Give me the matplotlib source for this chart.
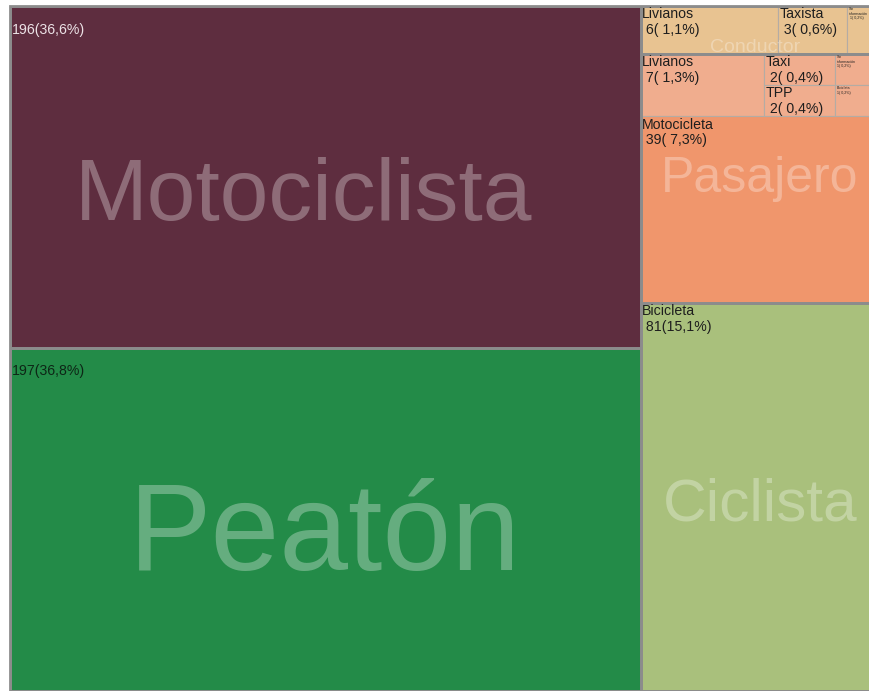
import matplotlib
matplotlib.use("Agg")
import matplotlib.pyplot as plt
from matplotlib.patches import Rectangle

plt.rcParams["font.family"] = ["Liberation Sans", "DejaVu Sans"]

# victims by road-user role; leaves are the vehicle involved
groups = ["Motociclista", "Peatón", "Conductor", "Pasajero", "Ciclista"]
group_colors = ["#5e2d3f", "#238b48", "#e8c391", "#f0ad8e", "#a9c07c"]

moto_names = [""]
moto_counts = [196]
peaton_names = [""]
peaton_counts = [197]
cond_names = ["Livianos", "Taxista", "Sin\ninformación"]
cond_counts = [6, 3, 1]
pas_top_names = ["Livianos", "Taxi", "TPP", "Sin\ninformación", "Bicicleta"]
pas_top_counts = [7, 2, 2, 1, 1]
pas_moto_names = ["Motocicleta"]
pas_moto_counts = [39]
cicl_names = ["Bicicleta"]
cicl_counts = [81]

TOTAL = (sum(moto_counts) + sum(peaton_counts) + sum(cond_counts)
         + sum(pas_top_counts) + sum(pas_moto_counts) + sum(cicl_counts))


def split(x, y, w, h, vals, horiz):
    """Slice a rect in proportion to vals (y grows downward)."""
    out, s, pos = [], float(sum(vals)), 0.0
    for v in vals:
        f = v / s
        if horiz:
            out.append((x + pos * w, y, f * w, h))
        else:
            out.append((x, y + pos * h, w, f * h))
        pos += f
    return out


def lab(n, name):
    pct = f"{100.0 * n / TOTAL:4.1f}".replace(".", ",")
    num = f"{n}({pct}%)"
    return f"\n{num}" if not name else f"{name}\n {num}"


fig = plt.figure(figsize=(8.7, 6.91), dpi=100)
ax = fig.add_axes([10 / 870, 0, 860 / 870, 685 / 691])
ax.set_xlim(0, 1)
ax.set_ylim(1, 0)
ax.axis("off")

BORDER = "#8c8c8c"
leaves = []   # (rect, color, text, fontsize, textcolor)
FS = 10.2
TINY = 2.6

left_sum = sum(moto_counts) + sum(peaton_counts)
right_sum = TOTAL - left_sum
colL, colR = split(0, 0, 1, 1, [left_sum, right_sum], True)

gMoto, gPea = split(*colL, [sum(moto_counts), sum(peaton_counts)], False)
gCond, gPas, gCic = split(*colR, [sum(cond_counts),
                                  sum(pas_top_counts) + sum(pas_moto_counts),
                                  sum(cicl_counts)], False)

leaves.append((gMoto, group_colors[0], lab(moto_counts[0], moto_names[0]), FS, "#ece2e6"))
leaves.append((gPea, group_colors[1], lab(peaton_counts[0], peaton_names[0]), FS, "#0d2616"))
leaves.append((gCic, group_colors[4], lab(cicl_counts[0], cicl_names[0]), FS, "#1e1e1e"))

for r, n, c in zip(split(*gCond, cond_counts, True), cond_names, cond_counts):
    leaves.append((r, group_colors[2], lab(c, n), FS if c > 1 else TINY, "#1e1e1e"))

pTop, pMoto = split(*gPas, [sum(pas_top_counts), sum(pas_moto_counts)], False)
t = pas_top_counts
cols = split(*pTop, [t[0], t[1] + t[2], t[3] + t[4]], True)
leaves.append((cols[0], group_colors[3], lab(t[0], pas_top_names[0]), FS, "#1e1e1e"))
for r, n, c in zip(split(*cols[1], t[1:3], False), pas_top_names[1:3], t[1:3]):
    leaves.append((r, group_colors[3], lab(c, n), FS, "#1e1e1e"))
for r, n, c in zip(split(*cols[2], t[3:5], False), pas_top_names[3:5], t[3:5]):
    leaves.append((r, group_colors[3], lab(c, n), TINY, "#1e1e1e"))
leaves.append((pMoto, "#f0966c", lab(pas_moto_counts[0], pas_moto_names[0]), FS, "#1e1e1e"))

for (x, y, w, h), fc, txt, fs, tc in leaves:
    p = Rectangle((x, y), w, h, fc=fc, ec="#b4aca4", lw=0.8)
    ax.add_patch(p)
    tx = ax.text(x + 0.002, y + 0.002, txt, ha="left", va="top", fontsize=fs,
                 color=tc, linespacing=1.12)
    tx.set_clip_path(p)

# group outlines and big labels
big = [(gMoto, "Motociclista", 63, -0.025, 0.030),
       (gPea, "Peatón", 89, 0.0, 0.027),
       (gCond, "Conductor", 14, 0.0, 0.025),
       (gPas, "Pasajero", 36, 0.005, 0.001),
       (gCic, "Ciclista", 43.5, 0.006, 0.012)]
for (x, y, w, h), name, fs, dx, dy in big:
    ax.add_patch(Rectangle((x, y), w, h, fc="none", ec=BORDER, lw=2.0))
    ax.text(x + w / 2 + dx, y + h / 2 + dy, name, ha="center", va="center",
            fontsize=fs, color="white", alpha=0.3)

ax.add_patch(Rectangle((0, 0), 1, 1, fc="none", ec=BORDER, lw=2.0, clip_on=False))

fig.savefig("out.png", dpi=100, facecolor="white")
